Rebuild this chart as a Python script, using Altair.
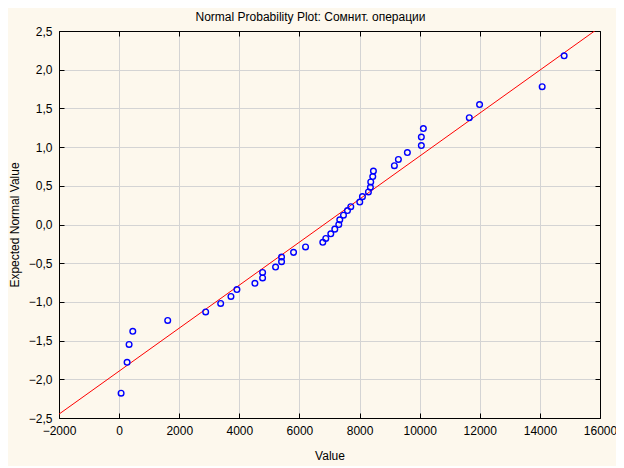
import altair as alt
import pandas as pd

FONT = "Liberation Sans"
BG = "#fdf8ed"

values = [
    66, 266, 332, 455, 1617, 2880, 3379, 3721, 3920, 4518,
    4774, 4774, 5206, 5405, 5405, 5804, 6203, 6777, 6877, 7043,
    7176, 7309, 7342, 7465, 7598, 7708, 8007, 8096, 8295, 8361,
    8372, 8439, 8461, 9159, 9292, 9591, 10056, 10056, 10123, 11651,
    11993, 14076, 14807,
]
# expected normal values
expected = [
    -2.18, -1.78, -1.55, -1.38, -1.24, -1.13, -1.02, -0.93, -0.84, -0.76,
    -0.69, -0.62, -0.55, -0.48, -0.42, -0.36, -0.29, -0.23, -0.18, -0.12,
    -0.06, 0.00, 0.06, 0.12, 0.18, 0.23, 0.29, 0.36, 0.42, 0.48,
    0.55, 0.62, 0.69, 0.76, 0.84, 0.93, 1.02, 1.13, 1.24, 1.38,
    1.55, 1.78, 2.18,
]

# fitted line end points
line_x = [-2000, 16000]
line_y = [-2.45, 2.55]

x_ticks = [-2000, 0, 2000, 4000, 6000, 8000, 10000, 12000, 14000, 16000]
y_ticks = [-2.5, -2.0, -1.5, -1.0, -0.5, 0.0, 0.5, 1.0, 1.5, 2.0, 2.5]

pts = pd.DataFrame({"value": values, "expected": expected})
fit = pd.DataFrame({"value": line_x, "expected": line_y})

x_scale = alt.Scale(domain=[-2000, 16000], nice=False, zero=False)
y_scale = alt.Scale(domain=[-2.5, 2.5], nice=False, zero=False)

# ticks point into the plot, as in the original
common_axis = dict(
    domain=True,
    domainColor="black",
    domainWidth=1,
    ticks=True,
    tickSize={"expr": "-5"},
    tickColor="black",
    tickWidth=1,
    labelFlush=False,
    labelFont=FONT,
    labelFontSize=12,
    labelColor="black",
    titleFont=FONT,
    titleFontSize=12,
    titleFontWeight="normal",
    titleColor="black",
)

# hide the grid lines that would sit on the black frame
x_grid_opacity = {"condition": {"test": "datum.value <= -2000 || datum.value >= 16000", "value": 0}, "value": 1}
y_grid_opacity = {"condition": {"test": "abs(datum.value) >= 2.5", "value": 0}, "value": 1}

x_axis = alt.Axis(
    orient="bottom",
    values=x_ticks,
    format="d",
    grid=True,
    gridColor="#d4d4d4",
    gridOpacity=x_grid_opacity,
    labelPadding=12,
    titlePadding=14,
    **common_axis,
)
y_axis = alt.Axis(
    orient="left",
    values=y_ticks,
    labelExpr="replace(format(datum.value, '.1f'), '.', ',')",
    grid=True,
    gridColor="#d4d4d4",
    gridOpacity=y_grid_opacity,
    labelPadding=12,
    titlePadding=7,
    **common_axis,
)

points = alt.Chart(pts).mark_point(
    shape="circle", filled=False, color="#0000ff", opacity=1, size=32, strokeWidth=1.4
).encode(
    x=alt.X("value:Q", title="Value", scale=x_scale, axis=x_axis),
    y=alt.Y("expected:Q", title="Expected Normal Value", scale=y_scale, axis=y_axis),
)

top_axis = alt.Axis(orient="top", values=x_ticks, labels=False, grid=False, **common_axis)
right_axis = alt.Axis(orient="right", values=y_ticks, labels=False, grid=False, **common_axis)

line = alt.Chart(fit).mark_line(color="#ff0000", strokeWidth=1, clip=True).encode(
    x=alt.X("value:Q", title="", scale=x_scale, axis=top_axis),
    y=alt.Y("expected:Q", title="", scale=y_scale, axis=right_axis),
)

chart = (
    alt.layer(line, points)
    .resolve_axis(x="independent", y="independent")
    .properties(
        width=541,
        height=387,
        autosize=alt.AutoSizeParams(type="none"),
        padding={"left": 51, "top": 23, "right": 16, "bottom": 48},
        title=alt.TitleParams(
            "Normal Probability Plot: Сомнит. операции",
            font=FONT,
            fontSize=12,
            fontWeight="normal",
            color="black",
            anchor="middle",
            dx=-19,
            offset=1,
        ),
    )
    .configure_view(stroke="black", strokeWidth=1, fill="#ffffff", fillOpacity=1)
    .configure(background=BG)
)

chart.save("out.html", embed_options={"renderer": "svg", "actions": False})
